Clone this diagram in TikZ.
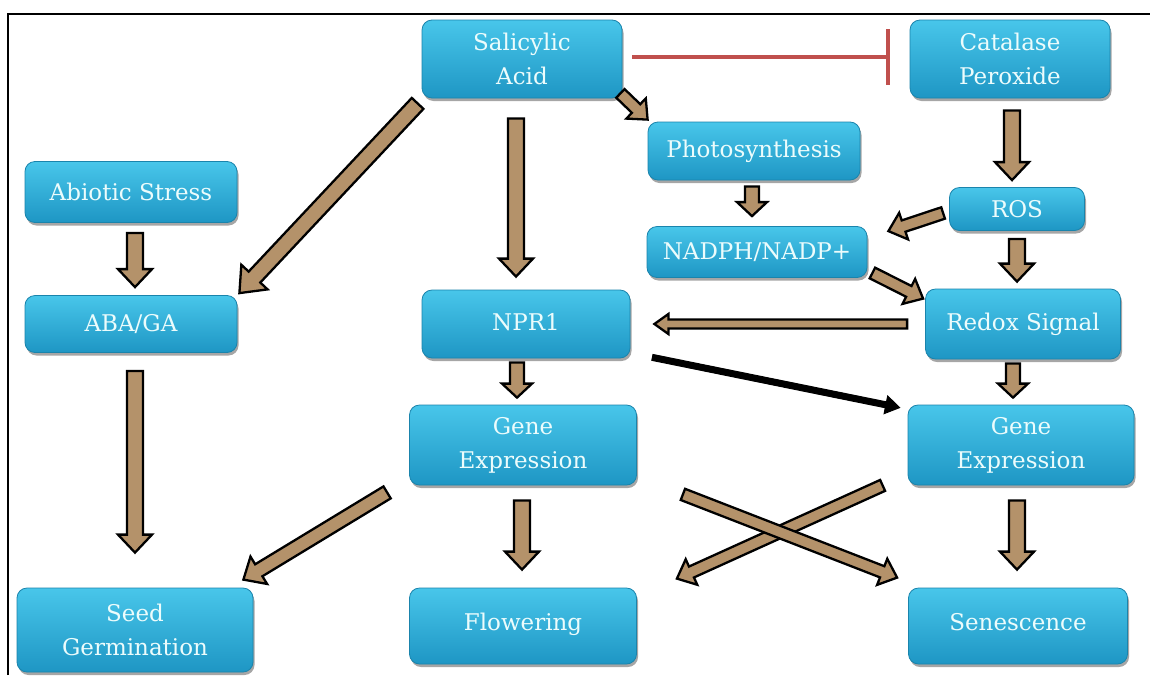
\documentclass[tikz,border=0pt]{standalone}
\usepackage{fontspec}
\usetikzlibrary{calc,shadows}
\newfontfamily\boxfont{DejaVu Serif}
\definecolor{boxtop}{RGB}{72,198,234}
\definecolor{boxbot}{RGB}{30,150,196}
\definecolor{boxedge}{RGB}{26,132,172}
\definecolor{boxtext}{RGB}{236,252,252}
\definecolor{arrowtan}{RGB}{180,146,106}
\definecolor{inhibred}{RGB}{192,80,77}
% block arrow: [style]{start}{end}{half shaft}{half head}{head length}
\newcommand{\barrow}[6][fatarrow]{%
  \coordinate (bs) at #2;
  \coordinate (be) at #3;
  \coordinate (bh) at ($(be)!#6!(bs)$);
  \path[#1] ($(bs)!#4!90:(be)$) -- ($(bh)!#4!-90:(bs)$) -- ($(bh)!#5!-90:(bs)$)
    -- (be) -- ($(bh)!#5!90:(bs)$) -- ($(bh)!#4!90:(bs)$) -- ($(bs)!#4!-90:(be)$) -- cycle;
}
\begin{document}
\begin{tikzpicture}[x=1pt,y=-1pt,
  box/.style={rectangle, rounded corners=10pt, top color=boxtop, bottom color=boxbot,
    draw=boxedge, line width=0.8pt,
    text=boxtext, align=center, inner sep=2pt,
    font={\boxfont\fontsize{23}{34}\selectfont},
    drop shadow={shadow xshift=1.5pt, shadow yshift=-3pt, opacity=0.35, fill=black}},
  fatarrow/.style={fill=arrowtan, draw=black, line width=2.3pt, line join=miter},
  blackarrow/.style={fill=black, draw=black, line width=1pt, line join=miter},
  inhib/.style={draw=inhibred, line width=4pt}]
\useasboundingbox (0,0) rectangle (1150,675);
\fill[white] (0,0) rectangle (1150,675);
\draw[line width=2.8pt] (8,675) -- (8,14) -- (1150,14);

\node[box, minimum width=200pt, minimum height=78pt] (sa)  at (522,59)  {Salicylic\\Acid};
\node[box, minimum width=200pt, minimum height=78pt] (cat) at (1010,59) {Catalase\\Peroxide};
\node[box, minimum width=212pt, minimum height=61pt] (abi) at (131,192) {Abiotic Stress};
\node[box, minimum width=212pt, minimum height=58pt] (pho) at (754,151) {Photosynthesis};
\node[box, minimum width=135pt, minimum height=43pt] (ros) at (1017,209) {ROS};
\node[box, minimum width=220pt, minimum height=51pt] (nad) at (757,252) {NADPH/NADP+};
\node[box, minimum width=212pt, minimum height=57pt] (aba) at (131,324) {ABA/GA};
\node[box, minimum width=208pt, minimum height=68pt] (npr) at (526,324) {\raisebox{4pt}{NPR1}};
\node[box, minimum width=195pt, minimum height=70pt] (red) at (1023,324) {Redox Signal};
\node[box, minimum width=227pt, minimum height=80pt] (gel) at (523,445) {Gene\\Expression};
\node[box, minimum width=226pt, minimum height=80pt] (ger) at (1021,445) {Gene\\Expression};
\node[box, minimum width=236pt, minimum height=84pt] (seed) at (135,630) {Seed\\Germination};
\node[box, minimum width=227pt, minimum height=76pt] (flo) at (523,626) {\raisebox{9pt}{Flowering}};
\node[box, minimum width=219pt, minimum height=76pt] (sen) at (1018,626) {\raisebox{9pt}{Senescence}};

% inhibition
\coordinate (ia) at ($(sa.east)+(10,-2)$);
\coordinate (ib) at ($(cat.west)+(-22,-2)$);
\draw[inhib] (ia) -- (ib);
\draw[inhib] ($(ib)+(0,-28)$) -- ($(ib)+(0,28)$);

% block arrows
\barrow{($(sa.south west)+(-4,5)$)}{($(aba.north east)+(2,-2)$)}{8pt}{18pt}{22pt}
\barrow{($(sa.south)+(-6,20)$)}{($(npr.north)+(-10,-13)$)}{8pt}{17pt}{18pt}
\barrow{($(sa.south east)+(-2,-5)$)}{($(pho.north west)+(0,-2)$)}{6pt}{14pt}{16pt}
\barrow{($(cat.south)+(2,12)$)}{($(ros.north)+(-5,-7)$)}{8pt}{17pt}{18pt}
\barrow{($(abi.south)+(4,10)$)}{($(aba.north)+(4,-8)$)}{8pt}{17pt}{18pt}
\barrow{($(pho.south)+(-2,6)$)}{($(nad.north)+(-5,-10)$)}{7pt}{15pt}{14pt}
\barrow{($(ros.west)+(-6,4)$)}{($(nad.north east)+(21,5)$)}{6pt}{14pt}{16pt}
\barrow{($(nad.east)+(5,21)$)}{($(red.north west)+(-2,10)$)}{6pt}{14pt}{16pt}
\barrow{($(ros.south)+(0,8)$)}{($(red.north)+(-6,-7)$)}{8pt}{17pt}{18pt}
\barrow{($(red.west)+(-18,0)$)}{($(npr.east)+(24,0)$)}{4.5pt}{10pt}{14pt}
\barrow[blackarrow]{($(npr.south east)+(22,-1)$)}{($(ger.north west)+(-8,3)$)}{3pt}{9pt}{14pt}
\barrow{($(npr.south)+(-9,4)$)}{($(gel.north)+(-6,-7)$)}{7pt}{15pt}{14pt}
\barrow{($(red.south)+(-10,4)$)}{($(ger.north)+(-8,-7)$)}{7pt}{15pt}{14pt}
\barrow{($(aba.south)+(4,18)$)}{($(seed.north)+(0,-35)$)}{8pt}{17pt}{18pt}
\barrow{($(gel.south west)+(-22,7)$)}{($(seed.north east)+(-10,-8)$)}{7pt}{16pt}{18pt}
\barrow{($(gel.south)+(-1,15)$)}{($(flo.north)+(-1,-18)$)}{8pt}{17pt}{18pt}
\barrow{($(ger.south west)+(-25,0)$)}{($(flo.north east)+(40,-9)$)}{6pt}{14pt}{16pt}
\barrow{($(gel.south east)+(46,9)$)}{($(sen.north west)+(-11,-10)$)}{6pt}{14pt}{16pt}
\barrow{($(ger.south)+(-4,15)$)}{($(sen.north)+(-1,-18)$)}{8pt}{17pt}{18pt}
\end{tikzpicture}
\end{document}
